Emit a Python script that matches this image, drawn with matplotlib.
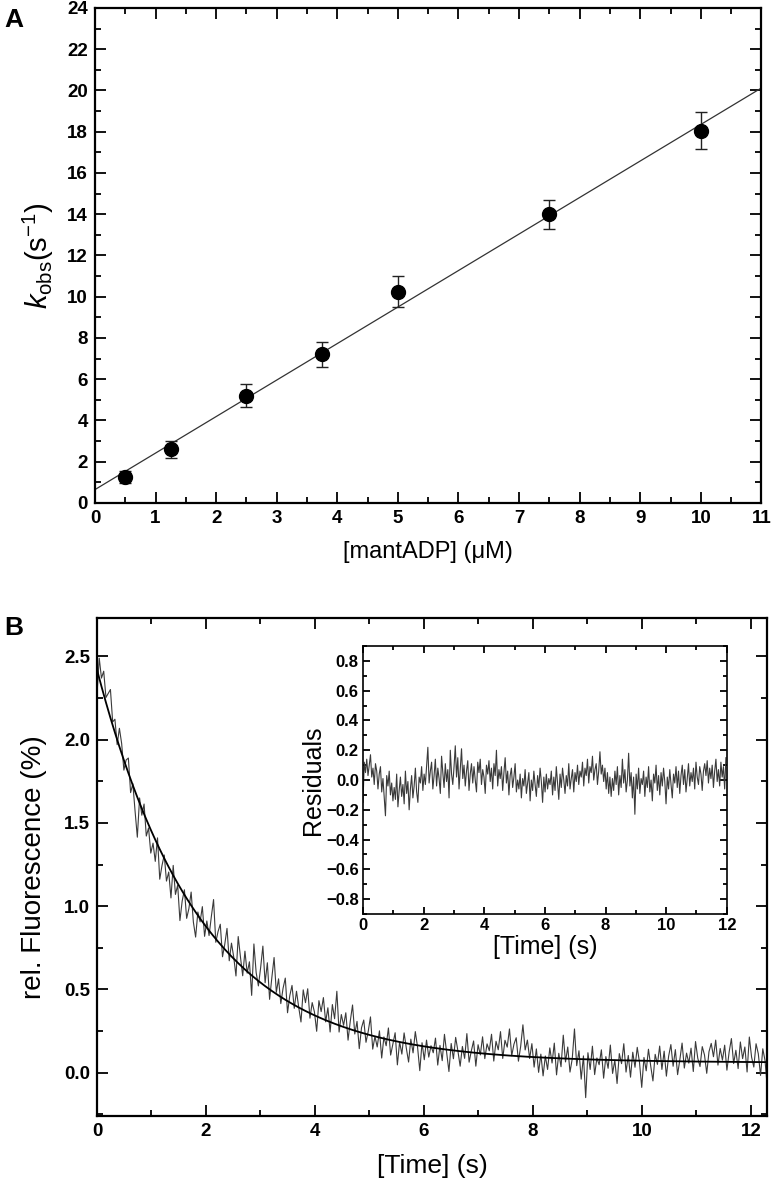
import numpy as np
import matplotlib
matplotlib.use('Agg')
import matplotlib.pyplot as plt
from matplotlib.ticker import MultipleLocator

plt.rcParams['font.family'] = ['Liberation Sans', 'DejaVu Sans']
plt.rcParams['mathtext.fontset'] = 'custom'
plt.rcParams['mathtext.rm'] = 'Liberation Sans'
plt.rcParams['mathtext.it'] = 'Liberation Sans:italic'

# panel A: observed rate vs. mantADP
conc = [0.5, 1.25, 2.5, 3.75, 5.0, 7.5, 10.0]
kobs = [1.25, 2.6, 5.2, 7.2, 10.25, 14.0, 18.05]
kobs_err = [0.3, 0.4, 0.55, 0.6, 0.75, 0.7, 0.9]
fit_slope = 1.77
fit_intercept = 0.65

# panel B: single exponential fit of the trace
amp = 2.36
rate = 0.53
offset = 0.06
t_end = 12.3

# residuals of the trace, in units of 0.01
resid_cent = [
    -15, 12, 5, 14, 3, 10, 17, 2, 8, -3, 11, 6, -6, 4, 9, -8, 1, -12, -24, 3, -4, 6, -10, -2, -14,
    -5, -13, 4, -18, -7, 2, -11, -3, -16, 6, -9, -1, -20, -6, 3, -12, -4, 8, -8, -15, 2, -2, 9, -7, 4,
    -3, 10, 22, -2, 6, 12, -6, 3, 14, -4, 8, 1, -9, 16, 5, -5, 11, -1, 7, -12, 20, 4, -3, 9, 23,
    2, 15, -6, 8, 21, 1, 10, -4, 6, 13, -7, 4, 11, -2, 9, 0, -8, 12, 5, 14, -3, 7, 2, -9, 10,
    4, 13, -1, 8, -6, 11, 3, 20, -4, 7, 1, 9, -7, 5, 15, -2, 6, -10, 3, 8, -5, 2, 11, -8, 0,
    -6, 4, -12, 1, -4, 7, -9, -2, 5, -14, 0, -7, 6, -3, -11, 3, -5, 8, -1, -15, 2, -8, 4, -6, 1,
    -3, 6, -10, 2, -7, 9, -2, -13, 4, -5, 8, 0, -9, 3, -4, 11, -6, 1, 7, -8, 5, -1, 10, -3, 6,
    2, 12, -4, 8, 3, 14, -2, 9, 5, 16, 0, 7, 11, -3, 6, 19, 4, 10, -1, 8, -6, 5, -9, 2, -11,
    1, -7, 6, -3, 9, -10, 3, -5, 14, -2, 7, -8, 0, 18, -4, 5, -12, 2, -23, 4, -6, 8, -9, 1, -3,
    6, -11, 2, -5, 9, -8, 0, -14, 4, -2, 10, -7, 3, -10, 5, -4, 8, -1, -16, 2, -6, 7, -3, -12, 4,
    -2, 9, -5, 6, -9, 3, 10, -3, 7, -8, 1, 11, -4, 5, -1, 8, -6, 12, 2, -3, 9, 4, -7, 6, 11,
    3, 13, -2, 8, 1, 10, -5, 6, 14, -1, 7, -4, 12, 2, 9, -6, 15, 3, -3, 11, 5, -8, 8, 1, -15,
]


def style_axes(ax, xmaj, xmin, ymaj, ymin, size=12):
    ax.xaxis.set_major_locator(MultipleLocator(xmaj))
    ax.xaxis.set_minor_locator(MultipleLocator(xmin))
    ax.yaxis.set_major_locator(MultipleLocator(ymaj))
    ax.yaxis.set_minor_locator(MultipleLocator(ymin))
    ax.tick_params(which='both', direction='in', top=True, right=True, width=1.3)
    ax.tick_params(which='major', length=8, labelsize=size, pad=5)
    ax.tick_params(which='minor', length=4)
    for s in ax.spines.values():
        s.set_linewidth(1.6)
    for lab in ax.get_xticklabels() + ax.get_yticklabels():
        lab.set_fontweight('bold')


fig = plt.figure(figsize=(7.74, 11.88), dpi=100)

# ---- A ----
axA = fig.add_axes([0.1227, 0.5766, 0.861, 0.4167])
xl = np.array([0, 11])
axA.plot(xl, fit_intercept + fit_slope * xl, color='#333333', lw=0.9)
axA.errorbar(conc, kobs, yerr=kobs_err, fmt='o', color='black', ms=10,
             ecolor='#222222', elinewidth=1.0, capsize=4, capthick=1.0)
axA.set_xlim(0, 11)
axA.set_ylim(0, 24)
style_axes(axA, 1, 0.5, 2, 1, size=13.5)
axA.set_xlabel('[mantADP] (μM)', fontsize=17, labelpad=10)
axA.set_ylabel(r'$k_{\mathrm{obs}}$(s$^{-1}$)', fontsize=21, labelpad=8)
fig.text(0.006, 0.983, 'A', fontsize=19, fontweight='bold', va='center')

# ---- B ----
t = np.linspace(0, t_end, len(resid_cent))
resid = np.array(resid_cent) / 100.0
fit_curve = amp * np.exp(-rate * t) + offset
trace = fit_curve + resid

axB = fig.add_axes([0.1253, 0.0606, 0.866, 0.4192])
axB.plot(t, trace, color='#3a3a3a', lw=0.8)
axB.plot(t, fit_curve, color='black', lw=1.3)
axB.set_xlim(0, t_end)
axB.set_ylim(-0.26, 2.73)
style_axes(axB, 2, 1, 0.5, 0.25, size=13.5)
axB.set_xlabel('[Time] (s)', fontsize=19, labelpad=10)
axB.set_ylabel('rel. Fluorescence (%)', fontsize=20, labelpad=12)
fig.text(0.006, 0.471, 'B', fontsize=19, fontweight='bold', va='center')

# inset residuals
inset = fig.add_axes([0.469, 0.2306, 0.470, 0.2256])
keep = t <= 12.0
inset.plot(t[keep], resid[keep], color='#3a3a3a', lw=0.8)
inset.set_xlim(0, 12)
inset.set_ylim(-0.9, 0.9)
style_axes(inset, 2, 1, 0.2, 0.1, size=12)
inset.tick_params(which='major', length=5, pad=3)
inset.tick_params(which='minor', length=3)
for s in inset.spines.values():
    s.set_linewidth(1.2)
inset.set_xlabel('[Time] (s)', fontsize=18, labelpad=1)
inset.set_ylabel('Residuals', fontsize=18, labelpad=1)

fig.savefig('out.png', dpi=100)
